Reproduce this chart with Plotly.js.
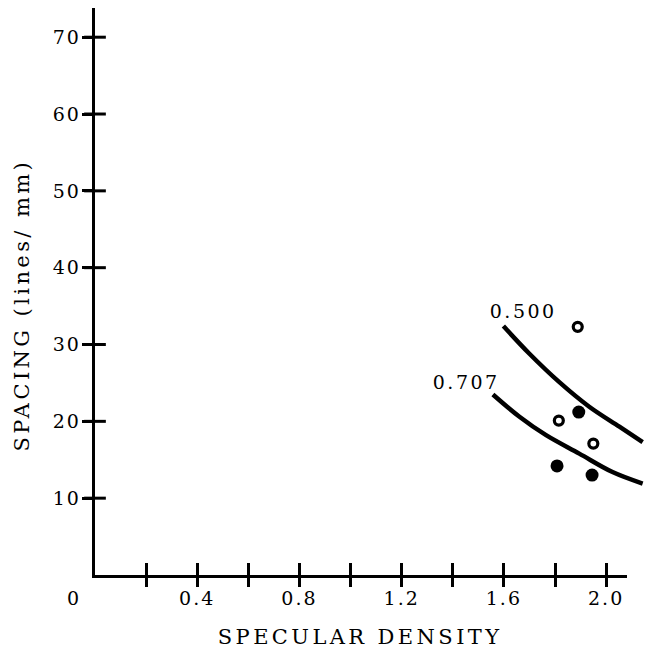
<!DOCTYPE html>
<html>
<head>
<meta charset="utf-8">
<script src="https://cdn.plot.ly/plotly-3.0.1.min.js"></script>
<style>
html,body{margin:0;padding:0;background:#fff;}
#chart{width:647px;height:653px;}
#chart .xtick text, #chart .ytick text{letter-spacing:2px;}
#chart .annotation-text.lbl{letter-spacing:2.5px;}
#chart .annotation-text.ttl{letter-spacing:3.4px;}
</style>
</head>
<body>
<div id="chart"></div>
<script>
// Data
const openX = [1.889, 1.815, 1.950];
const openY = [32.3, 20.1, 17.1];
const filledX = [1.893, 1.808, 1.945];
const filledY = [21.2, 14.2, 13.0];

const curve500X = [1.598, 1.700, 1.817, 1.934, 2.052, 2.143];
const curve500Y = [32.4, 28.8, 25.1, 21.9, 19.3, 17.3];
const curve707X = [1.557, 1.661, 1.765, 1.895, 2.025, 2.143];
const curve707Y = [23.5, 20.6, 18.2, 15.8, 13.4, 11.9];

const xTickVals = [0.2, 0.4, 0.6, 0.8, 1.0, 1.2, 1.4, 1.6, 1.8, 2.0];
const xTickText = ["", "0.4", "", "0.8", "", "1.2", "", "1.6", "", "2.0"];
const yTickVals = [10, 20, 30, 40, 50, 60, 70];
const yTickText = ["10", "20", "30", "40", "50", "60", "70"];

const xTitle = "SPECULAR DENSITY";
const yTitle = "SPACING (lines/ mm)";
const curveLabels = ["0.500", "0.707"];

const FONT = "DejaVu Serif, Liberation Serif, serif";
const XRANGE = [0, 2.16];
const YRANGE = [0, 73.8];
const XAXIS_END = 2.08;

const traces = [
  {x: curve500X, y: curve500Y, mode: "lines", line: {color: "#000", width: 4.5, shape: "spline", smoothing: 1}, hoverinfo: "skip"},
  {x: curve707X, y: curve707Y, mode: "lines", line: {color: "#000", width: 4.5, shape: "spline", smoothing: 1}, hoverinfo: "skip"},
  {x: openX, y: openY, mode: "markers", marker: {symbol: "circle-open", size: 9, color: "#000", line: {width: 3.2, color: "#000"}}},
  {x: filledX, y: filledY, mode: "markers", marker: {symbol: "circle", size: 13, color: "#000"}},
  // y ticks cross the axis line: short horizontal strokes centred on x = 0 at each tick value
  {x: yTickVals.map(() => XRANGE[0]), y: yTickVals, mode: "markers", cliponaxis: false, hoverinfo: "skip",
   marker: {symbol: "line-ew", size: 15.5, color: "#000", line: {width: 3, color: "#000"}}},
  // empty traces so the helper axes render
  {x: [], y: [], xaxis: "x2", yaxis: "y", mode: "markers", hoverinfo: "skip"},
  {x: [], y: [], xaxis: "x3", yaxis: "y", mode: "markers", hoverinfo: "skip"}
];

const layout = {
  width: 647, height: 653,
  margin: {l: 95, r: 0, t: 7.5, b: 78},
  paper_bgcolor: "#fff", plot_bgcolor: "rgba(0,0,0,0)",
  showlegend: false,
  font: {family: FONT, color: "#000", size: 19},
  xaxis: {
    range: XRANGE, showgrid: false, zeroline: false, showline: false,
    tickmode: "array", tickvals: xTickVals, ticktext: xTickText,
    ticks: "outside", ticklen: 11, tickwidth: 3, tickcolor: "#000",
    ticklabelstandoff: -5,
    tickfont: {family: FONT, size: 19, color: "#000"}
  },
  xaxis2: {
    range: XRANGE, overlaying: "x", anchor: "y", showgrid: false, zeroline: false, showline: false,
    tickmode: "array", tickvals: xTickVals, ticks: "inside", ticklen: 12, tickwidth: 3, tickcolor: "#000",
    showticklabels: false
  },
  xaxis3: {
    domain: [0, XAXIS_END / XRANGE[1]], range: [0, XAXIS_END], anchor: "y",
    showgrid: false, zeroline: false, showline: true, linewidth: 3, linecolor: "#000",
    ticks: "", showticklabels: false
  },
  yaxis: {
    range: YRANGE, showgrid: false, zeroline: false, showline: true, linewidth: 3.3, linecolor: "#000",
    tickmode: "array", tickvals: yTickVals, ticktext: yTickText,
    ticks: "outside", ticklen: 10, tickwidth: 3, tickcolor: "#000",
    ticklabelstandoff: -3,
    tickfont: {family: FONT, size: 19, color: "#000"}
  },
  annotations: [
    {x: 0, y: 0, xref: "x", yref: "y", text: "0", showarrow: false, xshift: -22, yshift: -23,
     font: {family: FONT, size: 19, color: "#000"}},
    {x: 1.673, y: 34.3, xref: "x", yref: "y", text: curveLabels[0], showarrow: false,
     font: {family: FONT, size: 19, color: "#000"}},
    {x: 1.450, y: 25.1, xref: "x", yref: "y", text: curveLabels[1], showarrow: false,
     font: {family: FONT, size: 19, color: "#000"}},
    {x: 360, y: 637, xref: "paper", yref: "paper", text: xTitle, showarrow: false,
     font: {family: FONT, size: 21, color: "#000"}},
    {x: 22, y: 305, xref: "paper", yref: "paper", text: yTitle, showarrow: false, textangle: -90,
     font: {family: FONT, size: 21, color: "#000"}}
  ]
};

// Title annotations are positioned in pixels: convert to paper fractions
(function () {
  const w = layout.width - layout.margin.l - layout.margin.r;
  const h = layout.height - layout.margin.t - layout.margin.b;
  [3, 4].forEach(i => {
    const a = layout.annotations[i];
    a.x = (a.x - layout.margin.l) / w;
    a.y = (layout.height - layout.margin.b - a.y) / h;
    a.xanchor = "center"; a.yanchor = "middle";
  });
})();

Plotly.newPlot("chart", traces, layout, {displayModeBar: false, staticPlot: true}).then(gd => {
  const anns = gd.querySelectorAll(".annotation-text");
  anns.forEach((el, i) => {
    if (i === 1 || i === 2) el.classList.add("lbl");
    if (i === 3 || i === 4) el.classList.add("ttl");
  });
});
</script>
</body>
</html>
